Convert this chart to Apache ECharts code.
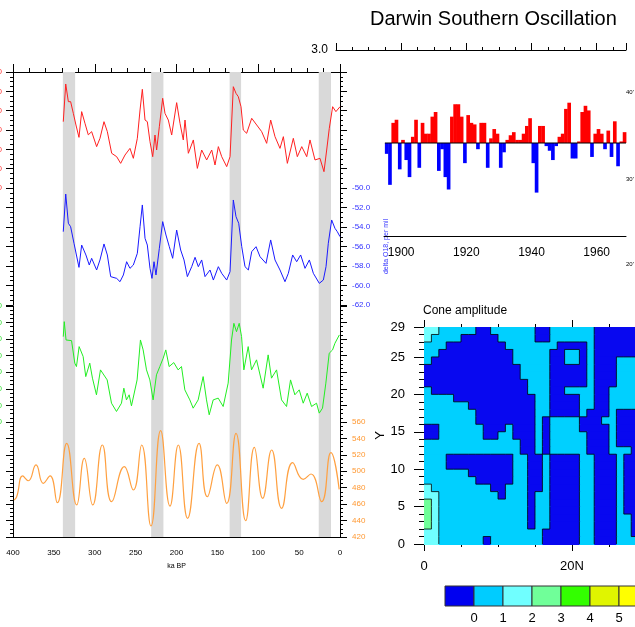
<!DOCTYPE html>
<html><head><meta charset="utf-8">
<script src="https://cdn.jsdelivr.net/npm/echarts@6/dist/echarts.min.js"></script>
<style>html,body{margin:0;padding:0;background:#fff}#c{width:635px;height:627px}</style>
</head><body><div id="c"></div>
<script>
const FONT = 'Liberation Sans, Arial, Helvetica, sans-serif';

// ---------- Left panel (ice core records, ka BP) ----------
const interglacials = [[339,324],[231,216],[135,121],[26,11]];
const redData = [[338.5,-1.14],[335.5,2.76],[332.3,0.93],[329.5,0.93],[326.2,-0.28],[323,-1.48],[319.3,-2.76],[316,-0.1],[312,-1.3],[307.9,-2.5],[303.8,-2.17],[297.7,-3.72],[293.6,-2.86],[288.7,-1.14],[284.6,-2.17],[279.3,-4.41],[273.2,-4.76],[268.3,-5.45],[263,-4.59],[256.9,-3.9],[252.8,-4.93],[247.9,-2.86],[244.6,0.07],[241.8,2.21],[238.5,-0.97],[235.7,-1.14],[232.4,-3.21],[229.1,-4.76],[226.3,-2.52],[224.3,-4.07],[221,-1.66],[216.9,1.28],[214.1,-0.28],[210,-0.97],[205.9,-2.52],[199.8,0.83],[195.7,-1.31],[191.7,-3.03],[189.6,-0.97],[185.5,-4.41],[179.4,-3.03],[174.5,-5.97],[169.2,-4.07],[163.1,-5.1],[156.9,-4.07],[152.9,-5.62],[148.8,-3.72],[144.7,-4.76],[138.6,-5.79],[134.5,-4.76],[130.5,2.48],[127.2,1.79],[124.4,1.45],[121.1,0.41],[118.3,-2.0],[114.2,-2.34],[108,-0.79],[101.9,-1.48],[95.8,-2.17],[89.7,-3.38],[84.8,-0.97],[79.5,-2.69],[73.4,-3.9],[69.3,-2.69],[64.4,-5.45],[57.1,-2.86],[52.2,-4.76],[46.8,-3.72],[40.7,-4.76],[36.7,-3.03],[30.6,-5.1],[24.5,-4.93],[19.6,-6.31],[16.3,-4.07],[13.1,-1.83],[9,0.41],[5,-0.1],[0,0.41]];
const blueData = [[338.5,-54.48],[335.5,-50.62],[332.3,-53.62],[329.5,-53.97],[325.4,-55.67],[319.3,-58.14],[316,-55.85],[310.8,-56.87],[306.7,-57.9],[303.8,-57.21],[297.7,-58.41],[293.6,-57.38],[288.7,-55.74],[284.6,-56.87],[280.5,-59.09],[273.2,-59.27],[269.1,-59.61],[265,-58.92],[261,-57.56],[256.9,-58.24],[252.8,-57.9],[247.9,-56.7],[244.6,-53.97],[241.8,-51.74],[238.5,-55.16],[235.7,-55.85],[232.4,-58.24],[230,-59.27],[227.5,-57.56],[225.1,-58.92],[221,-56.19],[216.9,-53.45],[212.9,-54.82],[208.8,-56.02],[204.7,-57.21],[199.8,-54.31],[194.9,-56.36],[190.8,-57.38],[186.7,-59.09],[181.4,-58.07],[177.3,-57.11],[173.3,-58.07],[169.2,-57.38],[165.1,-59.09],[159,-58.41],[154.9,-59.44],[148.8,-58.07],[144.7,-58.75],[138.6,-59.44],[134.5,-58.58],[130.5,-51.23],[127.2,-52.94],[123.9,-53.62],[120.2,-56.02],[116.2,-58.07],[112.1,-58.41],[108,-56.53],[102.7,-56.02],[97.8,-57.05],[90.5,-57.73],[84.8,-55.33],[79.5,-57.38],[73.4,-58.41],[67.3,-59.61],[63.2,-58.75],[57.9,-56.87],[53,-57.56],[48.1,-56.87],[42.8,-58.24],[37.5,-57.38],[32.6,-58.75],[25.3,-59.78],[20.4,-59.44],[17.1,-58.07],[14.3,-55.67],[10.2,-53.28],[6.2,-54.13],[3.3,-54.48],[0,-54.99]];
const greenData = [[338.5,283],[337.3,301.1],[335.1,279],[328.4,278.2],[324.4,251],[322.4,246.9],[319.1,271],[314.2,259],[311,234.8],[306.1,251],[302.8,232.9],[297.9,212.8],[293,242.9],[284.8,230.8],[279.5,202.7],[273.4,192.7],[267.3,202.7],[264.4,220.8],[261.2,206.7],[257.9,212.8],[255.1,199.5],[248.2,230.8],[244.1,279],[240.8,267],[236.7,242.9],[232.6,230.8],[228.6,206.7],[224.5,236.9],[220.4,246.9],[216.3,257],[213.1,267],[209,246.9],[203.3,251.7],[198,242.9],[193.9,246.9],[189.8,218.8],[183.7,206.7],[179.6,196.7],[173.5,206.7],[167.4,234.8],[163.3,206.7],[160,188.7],[155.1,206.7],[149,208.8],[142.9,198.7],[136.8,226.9],[132.7,279],[129.8,299.1],[126.6,289],[123.3,299.1],[120.4,283],[117.6,242.9],[112.3,271],[108.2,242.9],[102.1,255],[94,220.8],[87.9,261],[83.8,232.9],[77.6,242.9],[71.5,206.7],[65.4,198.7],[60.5,230.8],[55.2,212.8],[49.9,218.8],[45,202.7],[40.1,214.8],[34.8,198.7],[28.7,202.7],[25.4,190.7],[21.4,196.7],[17.3,226.9],[13.2,263],[9.1,267],[6.2,275],[0.8,285.1]];
const orangeData = [[398.8,465],[395.5,469],[388.2,494.3],[381.3,488.5],[371.9,507.7],[362.9,485.4],[354.7,494.3],[345.8,461.8],[334.3,534],[322.1,459],[312.8,515.8],[302.5,459],[290.7,532],[279.3,463],[263.8,505.6],[252.8,477.2],[242.6,532],[231.2,433.4],[219.4,549.4],[208,457.7],[197.8,532],[186.4,442.7],[172.4,534],[162.3,469],[150.1,507.7],[138.6,461],[127.2,546.2],[115.4,439.9],[104.8,529.2],[94.6,467.1],[83.6,525.9],[71.4,454.9],[57.9,510.5],[45,490.2],[35.5,496.7],[22.4,463],[11.1,522.6],[1,478]];

// ---------- Darwin Southern Oscillation ----------
const soiStartYear = 1895;
const soiValues = [-0.35,-1.35,0.65,0.75,-0.85,0.1,-0.55,-1.1,0.2,0.75,
  -0.8,0.65,0.3,0.3,0.85,1.0,-0.9,-0.2,-1.1,-1.5,
  0.85,1.25,1.25,0.85,-0.65,0.9,0.65,0.6,-0.2,0.65,
  0.65,-0.8,0.15,0.45,0.3,-0.8,-0.3,0.1,0.25,0.35,
  0.1,0.1,0.3,0.55,0.8,-0.65,-1.6,0.55,0.55,-0.1,
  -0.25,-0.55,-0.1,0.2,0.3,1.1,1.3,-0.5,-0.5,0.05,
  1.0,1.2,1.05,-0.45,0.3,0.45,0.3,-0.2,0.4,-0.45,
  0.7,-0.75,0.05,0.35];
const soiYearTicks = [1900,1920,1940,1960];

// ---------- Cone amplitude (levels per cell, top row first) ----------
const coneRows = [
"llcccccbbccccccbbccccccbbbbbb",
"lccccbbbbbcccccbbccccccbbbbbb",
"cccbbbbbbbbcccccccbbbbcbbbbbb",
"ccbbbbbbbbbbcccccbbccbcbbbbbb",
"cbbbbbbbbbbbcccccbbccbcbbbccc",
"bbbbbbbbbbbbbccccbbbbbcbbbccc",
"bbbbbbbbbbbbbccccbbbbbcbbbccc",
"bbbbbbbbbbbbbbcccbbbbbcbbbccc",
"cbbbbbbbbbbbbbcccbbccccbbcccc",
"ccccbbbbbbbbbbbccbbbbccbbcccc",
"ccccccbbbbbbbbbccbbbbccbbcccc",
"cccccccbbbbbbbbccbbbbcbbbcbbb",
"cccccccbbbbbbbbcbccccbbbccbbb",
"bbccccccbbbcbbbcbccccbbbbcbbb",
"bbccccccbbccbbbcbcccccbbbcbbb",
"cccccccccccccbbcbcccccbbbcbbb",
"cccccccccccccbbcbcccccbbbcccb",
"cccbbbbbbbbbccbbcbbbbccbbbcbb",
"cccbbbbbbbbbccbbcbbbbccbbbcbb",
"ccccccbbbbbbccbbcbbbbccbbbcbb",
"cccccccbbbbbccbbcbbbbccbbbcbb",
"lccccccccbbcccbbcbbbbccbbbcbb",
"llccccccccbcccbccbbbbccbbbcbb",
"glccccccccccccbccbbbbccbbbcbb",
"glccccccccccccbccbbbbccbbbcbb",
"glccccccccccccbccbbbbccbbbccb",
"glccccccccccccbccbbbbccbbbccb",
"llccccccccccccccbbbbbccbbbccb",
"llccccccbcccccccbbbbbccbbbccc"
];
const coneLevelValue = {b:-0.5, c:0.5, l:1.5, g:2.5};
const colorbarColors = ['#0000f0','#00ccff','#70ffff','#70ff99','#33ff00','#e0f500','#ffff00'];
const colorbarLabels = ['0','1','2','3','4','5'];

// ---------- build contour runs and boundaries from the level grid ----------
const nRows = coneRows.length;
const coneRuns = [];      // [iStart, iEnd, j, value]
const coneEdges = [];     // [x1, y1, x2, y2] in data units
const lv = (i, j) => {
  const r = nRows - 1 - j;
  if (r < 0 || r >= nRows || i < 0 || i >= coneRows[r].length) return undefined;
  return coneLevelValue[coneRows[r][i]];
};
coneRows.forEach((row, r) => {
  const j = nRows - 1 - r;
  let start = 0;
  for (let i = 1; i <= row.length; i++) {
    if (i === row.length || row[i] !== row[start]) {
      coneRuns.push([start, i, j, coneLevelValue[row[start]]]);
      if (i < row.length) coneEdges.push([i, j, i, j + 1]);
      start = i;
    }
  }
  for (let i = 0; i < row.length; i++) {
    const a = lv(i, j), b = lv(i, j + 1);
    if (b !== undefined && a !== b) coneEdges.push([i, j + 1, i + 1, j + 1]);
  }
});
function levelColor(v) {
  if (v < 0) return '#0808f0';
  if (v < 1) return '#00d0ff';
  if (v < 2) return '#70ffff';
  return '#70ff99';
}

const axisLine = {show:true, onZero:false, lineStyle:{color:'#000', width:1}};
const noLine = {show:false, onZero:false};
const tickStyle = {color:'#000', width:1};

function leftY(grid, min, max, interval, split, labelColor, pos, showLabel, fmt, extra) {
  return Object.assign({
    type:'value', gridIndex:grid, position:pos, min:min, max:max, interval:interval,
    axisLine:axisLine,
    axisTick:{show:true, length:7, lineStyle:tickStyle},
    minorTick:{show:true, splitNumber:split, length:3, lineStyle:tickStyle},
    axisLabel:{show:showLabel, color:labelColor, fontSize:8, fontFamily:FONT, margin:pos==='left'?11:12, formatter:fmt},
    splitLine:{show:false}, minorSplitLine:{show:false}
  }, extra || {});
}
function hiddenX(grid) {
  return {type:'value', gridIndex:grid, min:0, max:400, inverse:true, show:false, axisLine:noLine};
}
function g(left, top, width, height) {
  return {left:left, top:top, width:width, height:height, containLabel:false, outerBoundsMode:'none'};
}

const option = {
  animation:false,
  backgroundColor:'#fff',
  textStyle:{fontFamily:FONT},
  graphic:[
    {type:'text', left:370, top:9, style:{text:'Darwin Southern Oscillation', font:'20px '+FONT, fill:'#000'}},
    {type:'text', left:423, top:305, style:{text:'Cone amplitude', font:'12px '+FONT, fill:'#000'}},
    {type:'text', left:626, top:89, style:{text:"40'", font:'6px '+FONT, fill:'#000'}},
    {type:'text', left:626, top:176, style:{text:"30'", font:'6px '+FONT, fill:'#000'}},
    {type:'text', left:626, top:261, style:{text:"20'", font:'6px '+FONT, fill:'#000'}}
  ],
  grid:[
    g(336, 50, 290, 186),   //0 darwin
    g(384, 50, 242, 186),   //1 darwin bottom line
    g(13, 72, 327, 465),    //2 left full
    g(13, 72, 327, 116),    //3 red
    g(13, 188, 327, 117),   //4 blue
    g(13, 306, 327, 116),   //5 green
    g(13, 422, 327, 115),   //6 orange
    g(424, 327, 296, 217),  //7 contour
    g(445, 586, 203, 20)    //8 colorbar
  ],
  xAxis:[
    {type:'value', gridIndex:0, position:'top', min:1880, max:1969, interval:20,
      axisLine:axisLine, axisTick:{show:true, length:7, lineStyle:tickStyle},
      minorTick:{show:true, splitNumber:4, length:3, lineStyle:tickStyle},
      axisLabel:{show:false}, splitLine:{show:false}},
    {type:'value', gridIndex:0, position:'bottom', min:1880, max:1969, interval:20,
      axisLine:noLine, axisTick:{show:false},
      axisLabel:{show:true, fontSize:12, fontFamily:FONT, color:'#000', margin:11,
        formatter:v => soiYearTicks.indexOf(v) >= 0 ? String(v) : ''},
      splitLine:{show:false}},
    {type:'value', gridIndex:1, position:'bottom', min:0, max:1, axisLine:axisLine,
      axisTick:{show:false}, axisLabel:{show:false}, splitLine:{show:false}},
    {type:'value', gridIndex:2, position:'bottom', min:0, max:400, inverse:true, interval:50,
      axisLine:axisLine, axisTick:{show:false},
      axisLabel:{fontSize:8, fontFamily:FONT, color:'#000', margin:12},
      name:'ka BP', nameLocation:'middle', nameGap:26, nameTextStyle:{fontSize:7, fontFamily:FONT, color:'#000'},
      splitLine:{show:false}},
    {type:'value', gridIndex:2, position:'top', min:0, max:400, inverse:true, interval:100,
      axisLine:axisLine, axisTick:{show:true, length:8, lineStyle:tickStyle},
      minorTick:{show:true, splitNumber:5, length:4, lineStyle:tickStyle},
      axisLabel:{show:false}, splitLine:{show:false}},
    hiddenX(3), hiddenX(4), hiddenX(5), hiddenX(6),
    {type:'value', gridIndex:7, position:'bottom', min:0, max:40, interval:20,
      axisLine:axisLine, axisTick:{show:true, length:7, lineStyle:tickStyle},
      minorTick:{show:true, splitNumber:4, length:3, lineStyle:tickStyle},
      axisLabel:{fontSize:13, fontFamily:FONT, color:'#000', margin:16, formatter:v => v === 0 ? '0' : v + 'N'},
      splitLine:{show:false}},
    {type:'value', gridIndex:7, position:'top', min:0, max:40, interval:20,
      axisLine:axisLine, axisTick:{show:true, length:7, lineStyle:tickStyle},
      minorTick:{show:true, splitNumber:4, length:3, lineStyle:tickStyle},
      axisLabel:{show:false}, splitLine:{show:false}},
    {type:'value', gridIndex:8, min:0, max:7, interval:1, axisLine:noLine, axisTick:{show:false},
      axisLabel:{fontSize:13, fontFamily:FONT, color:'#000', margin:6,
        formatter:v => (v >= 1 && v <= colorbarLabels.length) ? colorbarLabels[v-1] : ''},
      splitLine:{show:false}}
  ],
  yAxis:[
    {type:'value', gridIndex:0, min:-3, max:3, interval:6, axisLine:noLine, axisTick:{show:false},
      axisLabel:{fontSize:12, fontFamily:FONT, color:'#000', margin:8, formatter:v => v === 3 ? '3.0' : ''},
      splitLine:{show:false}},
    {type:'value', gridIndex:1, min:-3, max:3, show:false, axisLine:noLine},
    {type:'value', gridIndex:2, min:0, max:1, show:false, axisLine:noLine},
    leftY(3, -8, 4, 2, 4, '#ff3333', 'left', true, v => v.toFixed(1)),
    leftY(3, -8, 4, 2, 4, '#ff3333', 'right', false),
    leftY(4, -62, -50, 2, 4, '#3333ff', 'left', false),
    leftY(4, -62, -50, 2, 4, '#3333ff', 'right', true, v => v.toFixed(1),
      {name:'delta O18, per mil', nameLocation:'middle', nameRotate:90, nameGap:43,
       nameTextStyle:{color:'#3333ff', fontSize:7, fontFamily:FONT}}),
    leftY(5, 180, 320, 20, 4, '#33dd33', 'left', true, v => String(v)),
    leftY(5, 180, 320, 20, 4, '#33dd33', 'right', false),
    leftY(6, 420, 560, 20, 4, '#ff9933', 'left', false),
    leftY(6, 420, 560, 20, 4, '#ff9933', 'right', true, v => String(v)),
    {type:'value', gridIndex:7, min:0, max:29, interval:5,
      axisLine:axisLine, axisTick:{show:true, length:10, lineStyle:tickStyle},
      minorTick:{show:true, splitNumber:5, length:5, lineStyle:tickStyle},
      axisLabel:{fontSize:13, fontFamily:FONT, color:'#000', margin:19},
      name:'Y', nameLocation:'middle', nameRotate:90, nameGap:31,
      nameTextStyle:{fontSize:13, fontFamily:FONT, color:'#000'},
      splitLine:{show:false}},
    {type:'value', gridIndex:8, min:0, max:1, show:false, axisLine:noLine}
  ],
  series:[
    {type:'custom', xAxisIndex:0, yAxisIndex:0, z:2,
      data:soiValues.map((v, i) => [soiStartYear + i, v]),
      renderItem:(params, api) => {
        const x0 = api.value(0), v = api.value(1);
        const p0 = api.coord([x0, 0]), p1 = api.coord([x0 + 1, v]);
        return {type:'rect', shape:{x:p0[0], y:Math.min(p0[1], p1[1]), width:p1[0]-p0[0]+0.4, height:Math.abs(p1[1]-p0[1])},
          style:{fill: v >= 0 ? '#ff0000' : '#0000ff'}};
      }},
    {type:'line', xAxisIndex:0, yAxisIndex:0, z:3, showSymbol:false, silent:true,
      data:[[soiStartYear, 0], [soiStartYear + soiValues.length, 0]],
      lineStyle:{color:'#000', width:1}},
    {type:'custom', xAxisIndex:3, yAxisIndex:2, z:1, silent:true,
      data:interglacials,
      renderItem:(params, api) => {
        const p0 = api.coord([api.value(0), 1]), p1 = api.coord([api.value(1), 0]);
        return {type:'rect', shape:{x:Math.min(p0[0], p1[0]), y:p0[1], width:Math.abs(p1[0]-p0[0]), height:p1[1]-p0[1]},
          style:{fill:'#d9d9d9'}};
      }},
    {type:'line', xAxisIndex:5, yAxisIndex:3, z:4, showSymbol:false, data:redData, lineStyle:{color:'#ff2020', width:1}},
    {type:'line', xAxisIndex:6, yAxisIndex:6, z:4, showSymbol:false, data:blueData, lineStyle:{color:'#1a1aff', width:1}},
    {type:'line', xAxisIndex:7, yAxisIndex:7, z:4, showSymbol:false, data:greenData, lineStyle:{color:'#22ee22', width:1}},
    {type:'line', xAxisIndex:8, yAxisIndex:10, z:4, showSymbol:false, smooth:0.5, data:orangeData, lineStyle:{color:'#ffa040', width:1.2}},
    {type:'custom', xAxisIndex:9, yAxisIndex:11, z:1, silent:true,
      data:coneRuns,
      renderItem:(params, api) => {
        const p0 = api.coord([api.value(0), api.value(2) + 1]), p1 = api.coord([api.value(1), api.value(2)]);
        return {type:'rect', shape:{x:p0[0], y:p0[1], width:p1[0]-p0[0]+1, height:p1[1]-p0[1]+1},
          style:{fill:levelColor(api.value(3))}};
      }},
    {type:'custom', xAxisIndex:9, yAxisIndex:11, z:2, silent:true,
      data:coneEdges,
      renderItem:(params, api) => {
        const a = api.coord([api.value(0), api.value(1)]), b = api.coord([api.value(2), api.value(3)]);
        return {type:'line', shape:{x1:a[0], y1:a[1], x2:b[0], y2:b[1]}, style:{stroke:'#000', lineWidth:0.8}};
      }},
    {type:'custom', xAxisIndex:11, yAxisIndex:12, silent:true,
      data:colorbarColors.map((c, k) => [k, 0]),
      renderItem:(params, api) => {
        const k = api.value(0);
        const p0 = api.coord([k, 1]), p1 = api.coord([k + 1, 0]);
        return {type:'rect', shape:{x:p0[0], y:p0[1], width:p1[0]-p0[0], height:p1[1]-p0[1]},
          style:{fill:colorbarColors[k], stroke:'#333', lineWidth:1}};
      }}
  ]
};
const chart = echarts.init(document.getElementById('c'), null, {renderer:'canvas'});
chart.setOption(option);
</script>
</body></html>
